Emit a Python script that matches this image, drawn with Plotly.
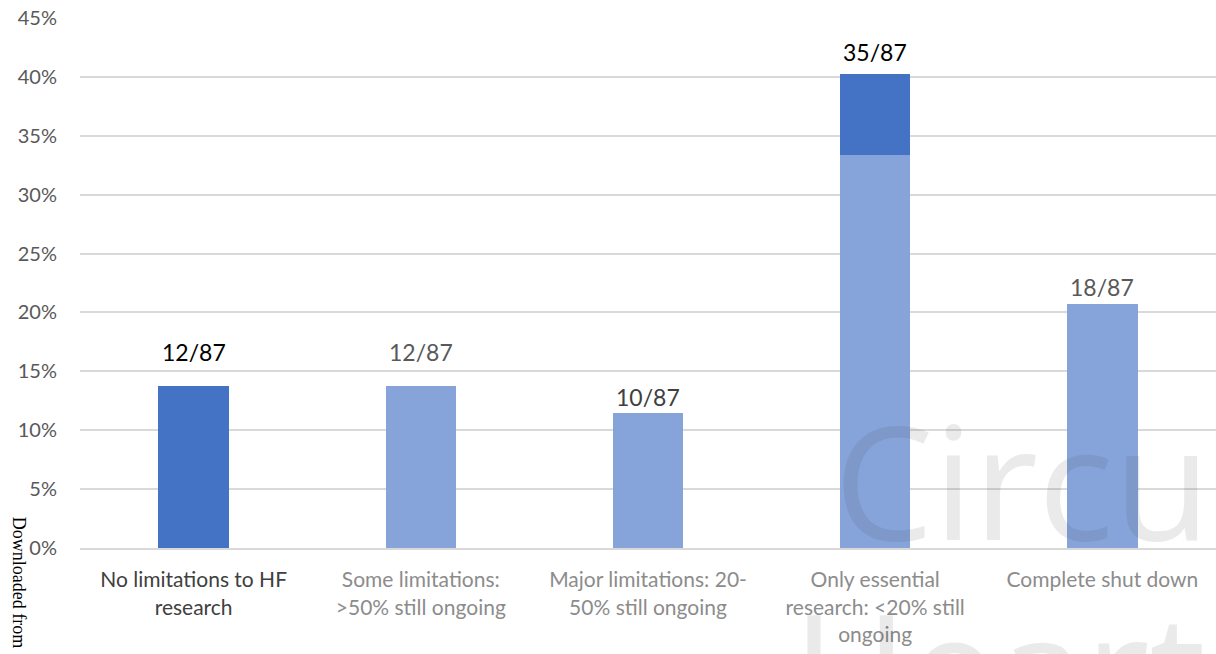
import plotly.graph_objects as go

categories = ["No limitations to HF<br>research",
              "Some limitations:<br>&gt;50% still ongoing",
              "Major limitations: 20-<br>50% still ongoing",
              "Only essential<br>research: &lt;20% still<br>ongoing",
              "Complete shut down"]
total_n = 87
light_counts = [0, 12, 10, 29, 18]
dark_counts = [12, 0, 0, 6, 0]
label_text = ["12/87", "12/87", "10/87", "35/87", "18/87"]
y_ticks = [0, 5, 10, 15, 20, 25, 30, 35, 40, 45]
y_tick_labels = ["0%", "5%", "10%", "15%", "20%", "25%", "30%", "35%", "40%", "45%"]

# styling (not data)
label_colors = ["#000000", "#595959", "#404040", "#000000", "#595959"]
label_shift_px = [18, 18, 0, 6, 1]
cat_colors = ["#404040", "#8c8c8c", "#8c8c8c", "#8c8c8c", "#8c8c8c"]

light_pct = [c / total_n * 100 for c in light_counts]
dark_pct = [c / total_n * 100 for c in dark_counts]
totals = [a + b for a, b in zip(light_pct, dark_pct)]
xs = list(range(len(categories)))

FONT = "Lato"
fig = go.Figure()
fig.add_trace(go.Bar(x=xs, y=light_pct, marker=dict(color="#86A4DA", line=dict(width=0)),
                     width=0.31, hoverinfo="skip"))
fig.add_trace(go.Bar(x=xs, y=dark_pct, marker=dict(color="#4472C4", line=dict(width=0)),
                     width=0.31, hoverinfo="skip"))

for x, t, txt, col, sh in zip(xs, totals, label_text, label_colors, label_shift_px):
    fig.add_annotation(x=x, y=t, text=txt, showarrow=False, yanchor="bottom", yshift=sh,
                       font=dict(family=FONT, size=23, color=col))

# watermark
fig.add_annotation(xref="paper", yref="paper", x=0.662, y=-0.075, xanchor="left", yanchor="bottom",
                   text="Circulation", showarrow=False,
                   font=dict(family="Open Sans", size=158, color="rgba(60,60,60,0.11)"))
fig.add_annotation(xref="paper", yref="paper", x=0.625, y=-0.43, xanchor="left", yanchor="bottom",
                   text="Heart", showarrow=False,
                   font=dict(family="Open Sans", size=158, color="rgba(60,60,60,0.11)"))
# side text
fig.add_annotation(xref="paper", yref="paper", x=-0.053, y=0.062, xanchor="center", yanchor="top",
                   text="Downloaded from", textangle=90, showarrow=False,
                   font=dict(family="Liberation Serif", size=18, color="#000000"))

ticktext = [f'<span style="color:{c}">{t}</span>' for t, c in zip(categories, cat_colors)]

fig.update_layout(
    barmode="stack", showlegend=False,
    width=1216, height=654,
    margin=dict(l=80, r=0, t=18, b=106),
    plot_bgcolor="white", paper_bgcolor="white",
    font=dict(family=FONT, size=21, color="#595959"),
    xaxis=dict(range=[-0.5, 4.5], tickmode="array", tickvals=xs, ticktext=ticktext,
               showgrid=False, showline=True, linecolor="#d9d9d9", linewidth=2,
               ticks="", tickfont=dict(size=21), ticklabelstandoff=12),
    yaxis=dict(range=[0, 45], tickmode="array", tickvals=y_ticks, ticktext=y_tick_labels,
               showgrid=True, gridcolor="#d9d9d9", gridwidth=2, zeroline=False, showline=False,
               ticks="", tickfont=dict(size=20, color="#595959"), ticklabelstandoff=22),
)
fig.write_html("out.html")
